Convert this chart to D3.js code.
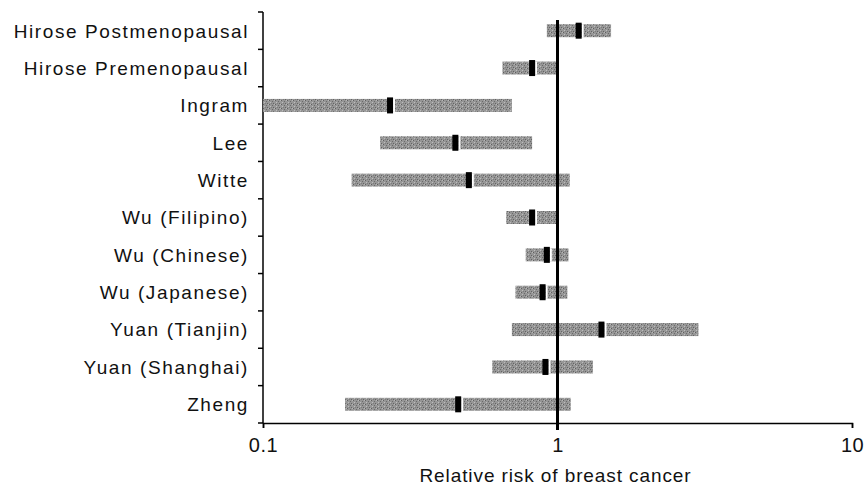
<!DOCTYPE html>
<html>
<head>
<meta charset="utf-8">
<script src="https://cdn.jsdelivr.net/npm/d3@7"></script>
<style>
  body { margin: 0; background: #fff; }
  text { font-family: "Liberation Sans", Arial, sans-serif; fill: #111; }
</style>
</head>
<body>
<div id="chart"></div>
<script>
// studies, top to bottom
var studies = ["Hirose Postmenopausal", "Hirose Premenopausal", "Ingram", "Lee", "Witte",
  "Wu (Filipino)", "Wu (Chinese)", "Wu (Japanese)", "Yuan (Tianjin)", "Yuan (Shanghai)", "Zheng"]
var rr    = [1.18, 0.82, 0.27, 0.45, 0.50, 0.82, 0.92, 0.89, 1.41, 0.91, 0.46]
var lower = [0.92, 0.65, 0.10, 0.25, 0.20, 0.67, 0.78, 0.72, 0.70, 0.60, 0.19]
var upper = [1.52, 0.99, 0.70, 0.82, 1.10, 0.99, 1.09, 1.08, 3.01, 1.32, 1.11]
var xTicks = [0.1, 1, 10]

var data = studies.map(function(s, i) {
  return { name: s, rr: rr[i], lo: lower[i], hi: upper[i] }
})

var W = 865, H = 487
var margin = {top: 12, right: 13, bottom: 64, left: 263},
width = W - margin.left - margin.right,
height = H - margin.top - margin.bottom;

var root = d3.select("#chart")
.append("svg")
.attr("width", W)
.attr("height", H)

// mottled grey fill, like the scanned print
var pat = root.append("defs").append("pattern")
.attr("id", "grain")
.attr("patternUnits", "userSpaceOnUse")
.attr("width", 6).attr("height", 4)
pat.append("rect").attr("width", 6).attr("height", 4).attr("fill", "#969696")
var specks = [[0,0,"#5f5f5f"],[3,1,"#6a6a6a"],[1,2,"#bdbdbd"],[4,3,"#646464"],[5,0,"#b8b8b8"],[2,3,"#7c7c7c"]]
pat.selectAll("rect.s").data(specks).enter().append("rect")
.attr("x", function(d) { return d[0]; }).attr("y", function(d) { return d[1]; })
.attr("width", 1).attr("height", 1).attr("fill", function(d) { return d[2]; })

var svg = root.append("g")
.attr("transform", "translate(" + margin.left + "," + margin.top + ")");

var x = d3.scaleLog()
.domain([0.1, 10])
.range([0, 589]);

var y = d3.scaleBand()
.domain(studies)
.range([0, height]);

// y axis: ticks on category boundaries
svg.append("line")
.attr("x1", 0).attr("x2", 0).attr("y1", 0).attr("y2", height)
.attr("stroke", "#000").attr("stroke-width", 1.5)
svg.selectAll(".ytick")
.data(d3.range(studies.length + 1))
.enter().append("line")
.attr("x1", -5).attr("x2", 0)
.attr("y1", function(i) { return i * y.step(); })
.attr("y2", function(i) { return i * y.step(); })
.attr("stroke", "#000").attr("stroke-width", 1.5)

svg.selectAll(".ylab")
.data(studies)
.enter().append("text")
.attr("x", -14)
.attr("y", function(d) { return y(d) + y.bandwidth() / 2; })
.attr("dy", "0.36em")
.attr("text-anchor", "end")
.style("font-size", "19px")
.style("letter-spacing", "1.6px")
.text(function(d) { return d; })

// x axis
var xAxis = svg.append("g")
.attr("transform", "translate(0," + height + ")")
.call(d3.axisBottom(x).tickValues(xTicks).tickFormat(d3.format("")).tickSize(5).tickPadding(10))
xAxis.select(".domain").attr("stroke-width", 1.5)
xAxis.selectAll("line").attr("stroke-width", 1.5)
xAxis.selectAll("text").style("font-size", "20px").style("letter-spacing", "0.5px").attr("fill", "#111")

svg.append("text")
.attr("x", x(1) - 2)
.attr("y", height + 59)
.attr("text-anchor", "middle")
.style("font-size", "19px")
.style("letter-spacing", "0.9px")
.text("Relative risk of breast cancer")

// confidence interval bars
var bh = 13
svg.selectAll(".ci")
.data(data)
.enter().append("rect")
.attr("x", function(d) { return x(d.lo); })
.attr("y", function(d) { return y(d.name) + y.bandwidth() / 2 - bh / 2; })
.attr("width", function(d) { return x(d.hi) - x(d.lo); })
.attr("height", bh)
.attr("fill", "url(#grain)")

// white gap right of the point estimate
svg.selectAll(".gap")
.data(data)
.enter().append("rect")
.attr("x", function(d) { return x(d.rr) + 3; })
.attr("y", function(d) { return y(d.name) + y.bandwidth() / 2 - bh / 2; })
.attr("width", 2)
.attr("height", bh)
.attr("fill", "#fff")

// point estimates
svg.selectAll(".est")
.data(data)
.enter().append("rect")
.attr("x", function(d) { return x(d.rr) - 3; })
.attr("y", function(d) { return y(d.name) + y.bandwidth() / 2 - 8; })
.attr("width", 6)
.attr("height", 16)
.attr("fill", "#000")

// reference line at RR = 1
svg.append("line")
.attr("x1", x(1)).attr("x2", x(1))
.attr("y1", 8).attr("y2", height + 7)
.attr("stroke", "#000").attr("stroke-width", 3)
</script>
</body>
</html>
